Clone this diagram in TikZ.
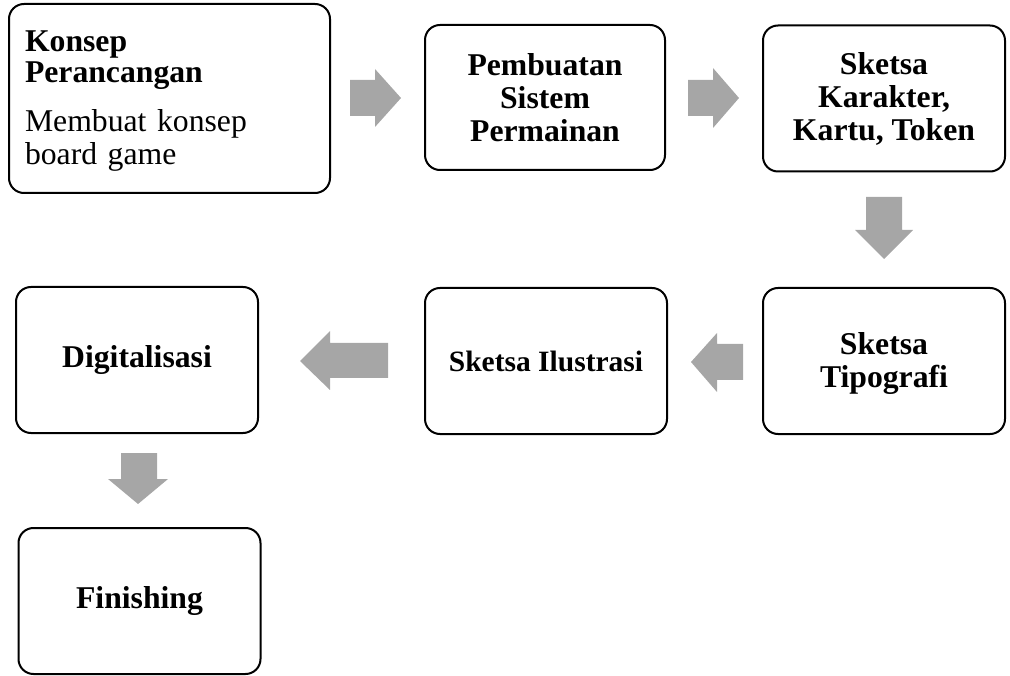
\documentclass[tikz,border=0pt]{standalone}
\usepackage{fontspec}
\setmainfont{Liberation Serif}
\definecolor{arrowgray}{RGB}{166,166,166}
\tikzset{
  box/.style={draw=black, line width=2pt, rounded corners=15pt, fill=white, inner sep=0pt, align=center,
    font=\fontsize{31.7}{33}\selectfont\bfseries},
  lbl/.style={inner sep=0pt, align=center, font=\fontsize{31.7}{33}\selectfont\bfseries},
  blk/.style={fill=arrowgray, draw=none}
}
\begin{document}
\begin{tikzpicture}[x=1pt,y=-1pt]
\useasboundingbox (0,0) rectangle (1010,676);
% boxes
\node[box, minimum width=321pt, minimum height=189pt] (b1) at (169.5,98.5) {};
\node[inner sep=0pt, text width=289pt, align=left, font=\fontsize{31.7}{32}\selectfont] (b1t) at ([yshift=-3pt]b1.center)
  {\textbf{Konsep}\\[-1pt]\textbf{Perancangan}\\[17pt]Membuat konsep\\[1pt]board game};
\node[box, minimum width=240pt, minimum height=145pt] (b2) at (545,97.5) {Pembuatan\\Sistem\\Permainan};
\node[box, minimum width=242pt, minimum height=146pt] (b3) at (884,98.5) {Sketsa\\Karakter,\\Kartu, Token};
\node[box, minimum width=242pt, minimum height=146pt] (b4) at (884,361) {};
\node[lbl] (b4t) at ([yshift=-3pt]b4.center) {Sketsa\\Tipografi};
\node[box, minimum width=242pt, minimum height=146pt, font=\fontsize{29.5}{33}\selectfont\bfseries] (b5) at (546,361) {Sketsa Ilustrasi};
\node[box, minimum width=242pt, minimum height=146pt] (b6) at (137,360) {Digitalisasi};
\node[box, minimum width=242pt, minimum height=146pt] (b7) at (139.5,601) {Finishing};
% block arrows
\fill[blk] (350,80) -- (375,80) -- (375,69) -- (401,98) -- (375,127) -- (375,116) -- (350,116) -- cycle;
\fill[blk] (688,80) -- (713,80) -- (713,68) -- (739,98) -- (713,128) -- (713,116) -- (688,116) -- cycle;
\fill[blk] (866,197) -- (902,197) -- (902,230) -- (913,230) -- (884,259) -- (855,230) -- (866,230) -- cycle;
\fill[blk] (743,344) -- (717,344) -- (717,333) -- (691,362) -- (717,392) -- (717,380) -- (743,380) -- cycle;
\fill[blk] (388,343) -- (330,343) -- (330,331) -- (300,361) -- (330,390) -- (330,378) -- (388,378) -- cycle;
\fill[blk] (121,453) -- (157,453) -- (157,479) -- (168,479) -- (138,504) -- (108,479) -- (121,479) -- cycle;
\end{tikzpicture}
\end{document}
